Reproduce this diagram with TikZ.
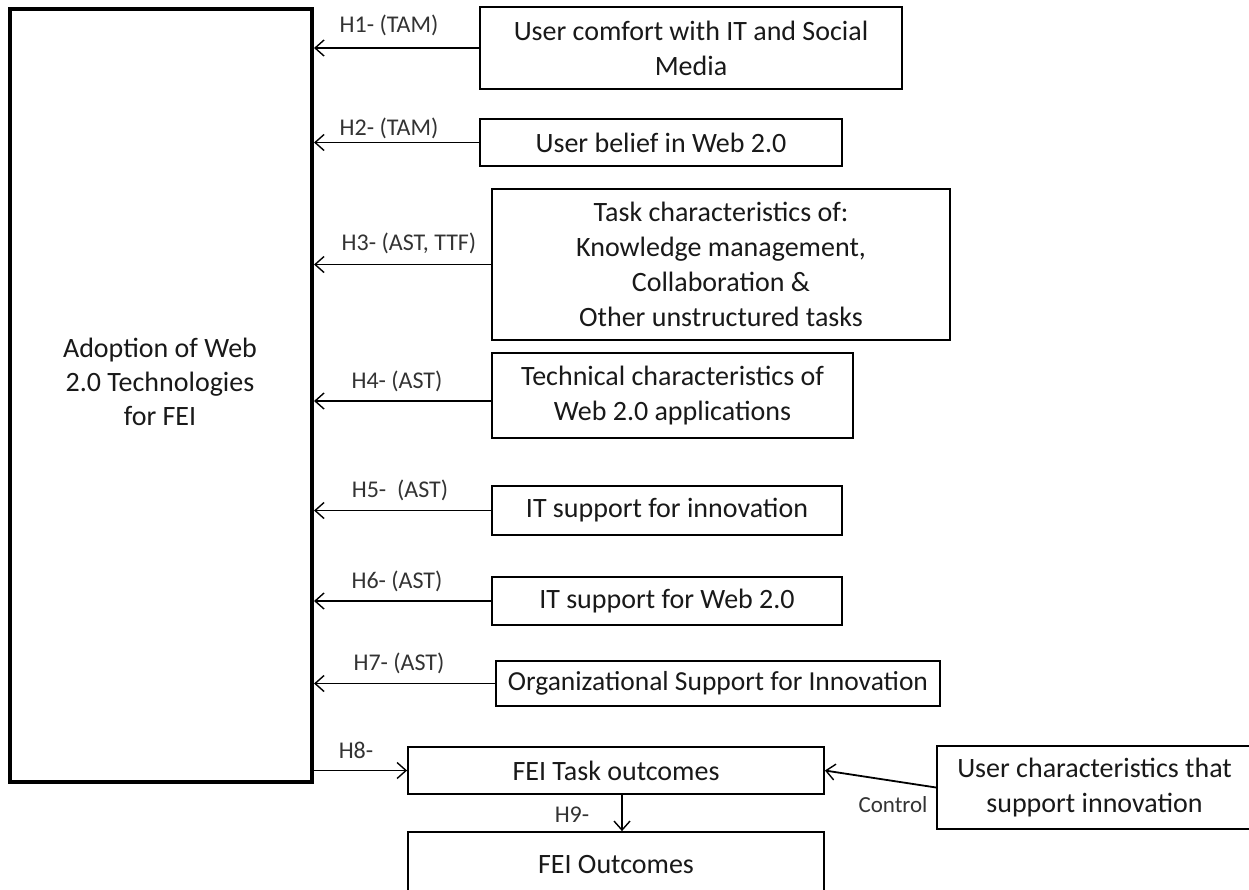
\documentclass[tikz,border=0pt]{standalone}
\usepackage{fontspec}
\setmainfont{Carlito}
\usetikzlibrary{arrows.meta}
\begin{document}
\begin{tikzpicture}[x=1pt,y=-1pt,
  box/.style={draw, line width=1.8pt, inner sep=0pt, align=center, font=\fontsize{28}{35}\selectfont, text=black!90},
  lbl/.style={font=\fontsize{24}{26}\selectfont, inner sep=0pt, text=black!80},
  arr/.style={line width=1.8pt, -{Straight Barb[length=9pt,width=16pt,line width=1.4pt]}}]
\useasboundingbox (0,0) rectangle (1249,889);
\clip (0,0) rectangle (1249,889);
\fill[white] (0,0) rectangle (1249,889);
% main box
\node[draw, line width=4pt, minimum width=302pt, minimum height=773pt, inner sep=0pt] (A) at (161,395.5) {};
\node[align=center, inner sep=0pt, font=\fontsize{28}{34}\selectfont, text=black!90] (At) at (160,382) {Adoption of Web\\2.0 Technologies\\for FEI};
% right boxes
\node[box, minimum width=422pt, minimum height=82pt] (b1) at (691,48) {User comfort with IT and Social\\Media};
\node[box, minimum width=362pt, minimum height=47pt] (b2) at (661,142.5) {User belief in Web 2.0};
\node[box, minimum width=458pt, minimum height=151pt] (b3) at (721,264.5) {Task characteristics of:\\Knowledge management,\\Collaboration \&\\Other unstructured tasks};
\node[box, minimum width=361pt, minimum height=85pt] (b4) at (672.5,395.5) {Technical characteristics of\\Web 2.0 applications};
\node[box, minimum width=350pt, minimum height=49pt] (b5) at (667,510.5) {IT support for innovation};
\node[box, minimum width=350pt, minimum height=48pt] (b6) at (667,601) {IT support for Web 2.0};
\node[box, minimum width=444pt, minimum height=45pt, font=\fontsize{27.5}{35}\selectfont] (b7) at (718,683.5) {Organizational Support for Innovation};
\node[box, minimum width=416pt, minimum height=47pt] (b8) at (616,770.5) {FEI Task outcomes};
\node[box, minimum width=416pt, minimum height=66pt] (b9) at (616,865) {FEI Outcomes};
\node[box, minimum width=315pt, minimum height=83pt] (b10) at (1094.5,787.5) {User characteristics that\\support innovation};
% arrows
\draw[arr] (b1.west) -- (b1.west -| A.east);
\draw[arr] (b2.west) -- (b2.west -| A.east);
\draw[arr] (b3.west) -- (b3.west -| A.east);
\coordinate (c4) at ([yshift=-5.5pt]b4.west);
\draw[arr] (c4) -- (c4 -| A.east);
\draw[arr] (b5.west) -- (b5.west -| A.east);
\draw[arr] (b6.west) -- (b6.west -| A.east);
\draw[arr] (b7.west) -- (b7.west -| A.east);
\draw[arr] (A.east |- b8.west) -- (b8.west);
\coordinate (c8) at ([xshift=6pt]b8.south);
\draw[arr] (c8) -- (c8 |- b9.north);
\draw[arr] (b10.west) -- (b8.east);
% labels
\node[lbl] (l1) at (389,25) {H1- (TAM)};
\node[lbl] (l2) at (389,128) {H2- (TAM)};
\node[lbl] (l3) at (409,243) {H3- (AST, TTF)};
\node[lbl] (l4) at (397,381) {H4- (AST)};
\node[lbl] (l5) at (400,490) {H5-\ \ (AST)};
\node[lbl] (l6) at (397,581) {H6- (AST)};
\node[lbl] (l7) at (399,663) {H7- (AST)};
\node[lbl] (l8) at (356,750) {H8-};
\node[lbl] (l9) at (572,815) {H9-};
\node[lbl, font=\fontsize{23}{25}\selectfont] (lc) at (893,805) {Control};
\end{tikzpicture}
\end{document}
